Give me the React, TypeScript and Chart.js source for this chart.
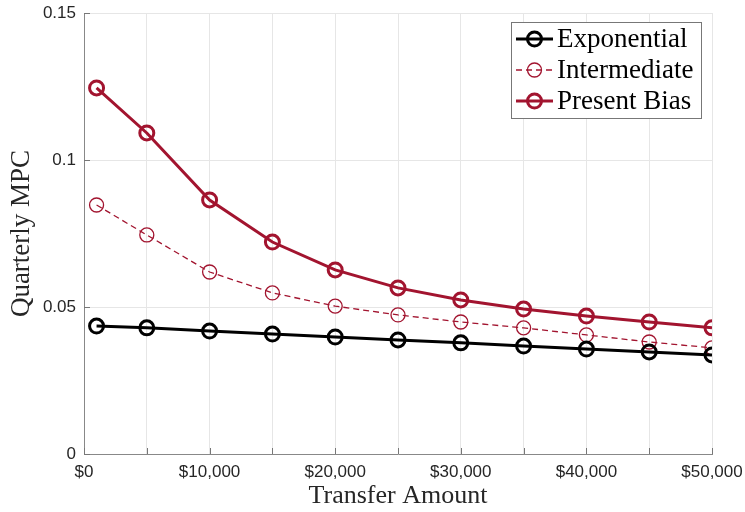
import React, { useEffect, useRef } from "react";
import { Chart, registerables } from "chart.js";

Chart.register(...registerables);

const transfers = [1000, 5000, 10000, 15000, 20000, 25000, 30000, 35000, 40000, 45000, 50000];
const exponential = [0.0435, 0.0429, 0.0418, 0.0408, 0.0398, 0.0388, 0.0378, 0.0367, 0.0357, 0.0347, 0.0337];
const intermediate = [0.0847, 0.0745, 0.0619, 0.0548, 0.0503, 0.0473, 0.0449, 0.0429, 0.0405, 0.0381, 0.0361];
const presentBias = [0.1245, 0.1092, 0.0864, 0.0721, 0.0626, 0.0565, 0.0524, 0.0493, 0.0469, 0.0449, 0.0429];
const seriesNames = ["Exponential", "Intermediate", "Present Bias"];
const yTickLabels: Record<string, string> = { "0": "0", "0.05": "0.05", "0.1": "0.1", "0.15": "0.15" };

const RED = "#A2142F";
const SERIF = "'Liberation Serif', 'DejaVu Serif', serif";
const SANS = "'Liberation Sans', Arial, sans-serif";

const legendStyles = [
  { color: "#000000", width: 3, dash: [] as number[], radius: 7, pw: 3 },
  { color: RED, width: 1.3, dash: [6, 4], radius: 7, pw: 1.3 },
  { color: RED, width: 3, dash: [] as number[], radius: 7, pw: 3 },
];

const legendPlugin = {
  id: "customLegend",
  afterDraw(chart: any) {
    const ctx = chart.ctx;
    ctx.save();
    const xs = chart.scales.x;
    const ys = chart.scales.y;
    ctx.strokeStyle = "#777";
    ctx.lineWidth = 1;
    for (let v = 0; v <= 50000; v += 5000) {
      const px = Math.round(xs.getPixelForValue(v)) + 0.5;
      ctx.beginPath();
      ctx.moveTo(px, ys.bottom);
      ctx.lineTo(px, ys.bottom - 6);
      ctx.stroke();
    }
    for (let v = 0; v <= 0.15001; v += 0.05) {
      const py = Math.round(ys.getPixelForValue(v)) + 0.5;
      ctx.beginPath();
      ctx.moveTo(xs.left, py);
      ctx.lineTo(xs.left + 6, py);
      ctx.stroke();
    }
    const bx = 511.5, by = 22.5, bw = 190, bh = 96;
    ctx.fillStyle = "#ffffff";
    ctx.fillRect(bx, by, bw, bh);
    ctx.strokeStyle = "#777";
    ctx.lineWidth = 1;
    ctx.strokeRect(bx, by, bw, bh);
    const rows = [39, 70, 101];
    ctx.font = `27px ${SERIF}`;
    ctx.textBaseline = "middle";
    seriesNames.forEach((name, i) => {
      const s = legendStyles[i];
      const y = rows[i];
      ctx.strokeStyle = s.color;
      ctx.lineWidth = s.width;
      ctx.setLineDash(s.dash);
      ctx.beginPath();
      ctx.moveTo(516, y);
      ctx.lineTo(553, y);
      ctx.stroke();
      ctx.setLineDash([]);
      ctx.lineWidth = s.pw;
      ctx.beginPath();
      ctx.arc(534.5, y, s.radius, 0, Math.PI * 2);
      ctx.stroke();
      ctx.fillStyle = "#000";
      ctx.fillText(name, 557, y + 1);
    });
    ctx.restore();
  },
};

export default function App() {
  const ref = useRef<HTMLCanvasElement>(null);
  useEffect(() => {
    if (!ref.current) return;
    const mk = (vals: number[]) => transfers.map((x, i) => ({ x, y: vals[i] }));
    const chart = new Chart(ref.current, {
      type: "line",
      data: {
        datasets: [
          {
            label: seriesNames[0],
            data: mk(exponential),
            borderColor: "#000",
            borderWidth: 3,
            pointRadius: 7,
            pointBorderWidth: 3,
            pointBorderColor: "#000",
            pointBackgroundColor: "rgba(0,0,0,0)",
            tension: 0,
          },
          {
            label: seriesNames[1],
            data: mk(intermediate),
            borderColor: RED,
            borderWidth: 1.3,
            borderDash: [6, 4],
            pointRadius: 7,
            pointBorderWidth: 1.3,
            pointBorderColor: RED,
            pointBackgroundColor: "rgba(0,0,0,0)",
            tension: 0,
          },
          {
            label: seriesNames[2],
            data: mk(presentBias),
            borderColor: RED,
            borderWidth: 3,
            pointRadius: 7,
            pointBorderWidth: 3,
            pointBorderColor: RED,
            pointBackgroundColor: "rgba(0,0,0,0)",
            tension: 0,
          },
        ],
      },
      options: {
        responsive: false,
        animation: false,
        layout: { padding: { left: 0, right: 33, top: 13, bottom: 0 } },
        plugins: { legend: { display: false }, tooltip: { enabled: false } },
        scales: {
          x: {
            type: "linear",
            min: 0,
            max: 50000,
            afterFit: (s: any) => {
              s.height = 58;
              s.paddingLeft = 0;
              s.paddingRight = 0;
            },
            ticks: {
              stepSize: 5000,
              autoSkip: false,
              maxRotation: 0,
              padding: 8,
              color: "#262626",
              font: { family: SANS, size: 17 },
              callback: (v: any) => (v % 10000 === 0 ? "$" + Number(v).toLocaleString("en-US") : ""),
            },
            grid: { color: "#e6e6e6", drawTicks: false, lineWidth: 1 },
            border: { color: "#888", width: 1 },
            title: {
              display: true,
              text: "Transfer Amount",
              color: "#262626",
              font: { family: SERIF, size: 26 },
              padding: { top: 0, bottom: 0 },
            },
          },
          y: {
            min: 0,
            max: 0.15,
            afterFit: (s: any) => {
              s.width = 84;
              s.paddingTop = 0;
              s.paddingBottom = 0;
            },
            ticks: {
              stepSize: 0.05,
              padding: 8,
              color: "#262626",
              font: { family: SANS, size: 17 },
              callback: (v: any) => yTickLabels[String(Math.round(v * 100) / 100)] ?? "",
            },
            grid: { color: "#e6e6e6", drawTicks: false, lineWidth: 1 },
            border: { color: "#888", width: 1 },
            title: {
              display: true,
              text: "Quarterly MPC",
              color: "#262626",
              font: { family: SERIF, size: 27 },
              padding: { top: 6, bottom: 0 },
            },
          },
        },
      },
      plugins: [legendPlugin],
    });
    return () => chart.destroy();
  }, []);
  return (
    <div style={{ position: "absolute", left: 0, top: 0, width: 745, height: 512, background: "#fff" }}>
      <canvas ref={ref} width={745} height={512} style={{ display: "block" }} />
    </div>
  );
}
